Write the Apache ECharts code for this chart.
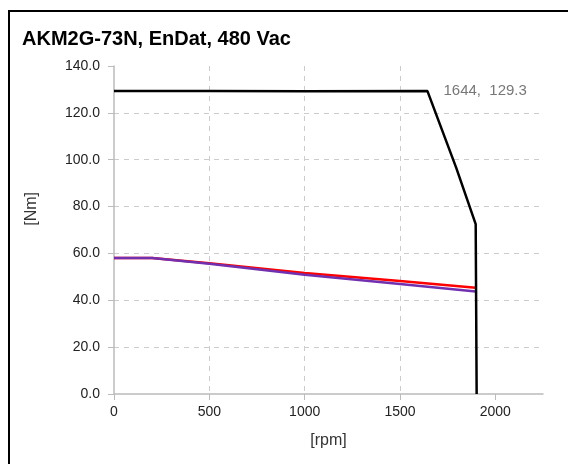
<!DOCTYPE html>
<html><head><meta charset="utf-8">
<script src="https://cdn.jsdelivr.net/npm/echarts@6/dist/echarts.min.js"></script>
<style>
html,body{margin:0;padding:0;background:#fff;overflow:hidden;}
#frame{position:absolute;left:8px;top:10px;width:600px;height:500px;border:2px solid #000;box-sizing:border-box;}
#chart{position:absolute;left:0;top:0;width:568px;height:464px;}
</style></head>
<body>
<div id="frame"></div>
<div id="chart"></div>
<script>
const titleText = 'AKM2G-73N, EnDat, 480 Vac';
const xName = '[rpm]';
const yName = '[Nm]';
const xTicks = [0, 500, 1000, 1500, 2000];
const peakCurve = [[0, 129.3], [500, 129.3], [1000, 129.2], [1644, 129.3], [1795, 96.5], [1897, 72.5], [1902, 0]];
const contRed = [[0, 58.0], [200, 58.0], [500, 55.8], [1000, 51.6], [1500, 48.2], [1897, 45.4]];
const contPurple = [[0, 58.0], [200, 58.0], [500, 55.6], [1000, 50.9], [1500, 47.0], [1897, 43.7]];
const peakLabelPoint = [1644, 129.3];
const peakLabelText = '1644,  129.3';

const chart = echarts.init(document.getElementById('chart'), null, {renderer: 'canvas'});
chart.setOption({
  backgroundColor: 'transparent',
  animation: false,
  title: {
    text: titleText, left: 22, top: 29, padding: 0,
    textStyle: {fontFamily: 'Liberation Sans', fontSize: 20, fontWeight: 'bold', color: '#000'}
  },
  grid: {left: 114, top: 66, right: 25, bottom: 70, containLabel: false},
  xAxis: {
    type: 'value', min: 0, max: 2250, interval: 500,
    name: xName, nameLocation: 'middle', nameGap: 39,
    nameTextStyle: {fontFamily: 'Liberation Sans', fontSize: 16, color: '#333'},
    axisLine: {show: true, lineStyle: {color: '#bbb', width: 1.5}},
    axisTick: {show: true, length: 6, lineStyle: {color: '#bbb'}, customValues: xTicks},
    axisLabel: {show: true, margin: 11, fontFamily: 'Liberation Sans', fontSize: 14, color: '#222',
      customValues: xTicks, formatter: v => String(v)},
    splitLine: {show: true, showMinLine: false, showMaxLine: false, lineStyle: {color: '#ccc', type: [5, 5], width: 1}}
  },
  yAxis: {
    type: 'value', min: 0, max: 140, interval: 20,
    axisLine: {show: true, lineStyle: {color: '#bbb', width: 1.5}},
    axisTick: {show: true, length: 6, lineStyle: {color: '#bbb'}},
    axisLabel: {show: true, margin: 14, fontFamily: 'Liberation Sans', fontSize: 14, color: '#222',
      formatter: v => v.toFixed(1)},
    splitLine: {show: true, showMinLine: false, showMaxLine: false, lineStyle: {color: '#ccc', type: [5, 5], width: 1}}
  },
  graphic: [{
    type: 'text', left: 24, top: 192, rotation: Math.PI / 2,
    style: {text: yName, fontFamily: 'Liberation Sans', fontSize: 16, fill: '#333'}
  }],
  series: [
    {type: 'line', data: contRed, symbol: 'none', lineStyle: {color: '#ff0000', width: 2.5}, z: 3},
    {type: 'line', data: contPurple, symbol: 'none', lineStyle: {color: '#7030b0', width: 2.5}, z: 4},
    {type: 'line', data: peakCurve, symbol: 'none', lineStyle: {color: '#000', width: 2.5}, z: 5},
    {type: 'scatter', data: [peakLabelPoint], symbolSize: 0, z: 6,
      label: {show: true, position: 'right', distance: 16, formatter: peakLabelText,
        fontFamily: 'Liberation Sans', fontSize: 15, color: '#555'}}
  ]
});
</script>
</body></html>
